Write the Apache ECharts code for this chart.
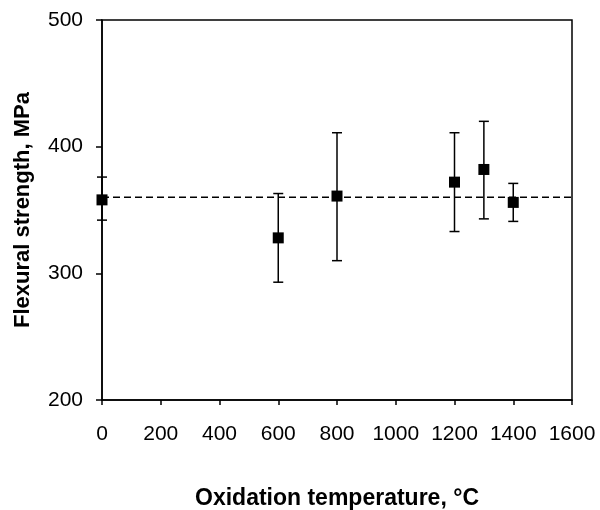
<!DOCTYPE html>
<html><head><meta charset="utf-8">
<script src="https://cdn.jsdelivr.net/npm/echarts@6/dist/echarts.min.js"></script>
<style>html,body{margin:0;padding:0;background:#fff}#c{width:600px;height:510px}</style>
</head><body><div id="c"></div>
<script>
const temperatures = [0, 600, 800, 1200, 1300, 1400];
const strength = [358, 328, 361, 372, 382, 356];
const errLow = [342, 293, 310, 333, 343, 341];
const errHigh = [376, 363, 411, 411, 420, 371];
const meanLine = 360;
const xTicks = [0, 200, 400, 600, 800, 1000, 1200, 1400, 1600];
const yTicks = [200, 300, 400, 500];

const font = 'Liberation Sans, Arial, sans-serif';
const chart = echarts.init(document.getElementById('c'), null, {renderer: 'canvas'});
const errData = temperatures.map((t, i) => [t, errLow[i], errHigh[i]]);
chart.setOption({
  animation: false,
  grid: {left: 102, right: 28, top: 20, bottom: 110, show: true, borderColor: '#000', borderWidth: 1.5,
         containLabel: false, outerBoundsMode: 'none'},
  xAxis: {
    type: 'value', min: xTicks[0], max: xTicks[xTicks.length - 1], interval: xTicks[1] - xTicks[0],
    axisLine: {show: true, onZero: false, lineStyle: {color: '#000', width: 1.5}},
    axisTick: {show: true, length: 5, lineStyle: {color: '#000', width: 1.5}},
    axisLabel: {color: '#000', fontSize: 21, fontFamily: font, margin: 24, formatter: v => String(v)},
    splitLine: {show: false},
    name: 'Oxidation temperature, °C', nameLocation: 'middle', nameGap: 87,
    nameTextStyle: {color: '#000', fontSize: 23, fontWeight: 'bold', fontFamily: font}
  },
  yAxis: {
    type: 'value', min: yTicks[0], max: yTicks[yTicks.length - 1], interval: yTicks[1] - yTicks[0],
    axisLine: {show: true, lineStyle: {color: '#000', width: 1.5}},
    axisTick: {show: true, length: 6, lineStyle: {color: '#000', width: 1.5}},
    axisLabel: {color: '#000', fontSize: 21, fontFamily: font, margin: 19, formatter: v => String(v)},
    splitLine: {show: false},
    name: 'Flexural strength, MPa', nameLocation: 'middle', nameGap: 68,
    nameTextStyle: {color: '#000', fontSize: 22, fontWeight: 'bold', fontFamily: font}
  },
  series: [
    {
      type: 'line', data: [[xTicks[0], meanLine], [xTicks[xTicks.length - 1], meanLine]], symbol: 'none',
      lineStyle: {color: '#000', width: 1.5, type: [7, 4]}, z: 1
    },
    {
      type: 'custom', data: errData, z: 2,
      renderItem: function (params, api) {
        const x = api.value(0);
        const lo = api.coord([x, api.value(1)]);
        const hi = api.coord([x, api.value(2)]);
        const hw = 5;
        const st = {stroke: '#000', lineWidth: 1.5};
        return {type: 'group', children: [
          {type: 'line', shape: {x1: lo[0], y1: lo[1], x2: hi[0], y2: hi[1]}, style: st},
          {type: 'line', shape: {x1: lo[0] - hw, y1: lo[1], x2: lo[0] + hw, y2: lo[1]}, style: st},
          {type: 'line', shape: {x1: hi[0] - hw, y1: hi[1], x2: hi[0] + hw, y2: hi[1]}, style: st}
        ]};
      }
    },
    {
      type: 'scatter', data: temperatures.map((t, i) => [t, strength[i]]),
      symbol: 'rect', symbolSize: 11, itemStyle: {color: '#000', opacity: 1}, z: 3
    }
  ]
});
</script></body></html>
